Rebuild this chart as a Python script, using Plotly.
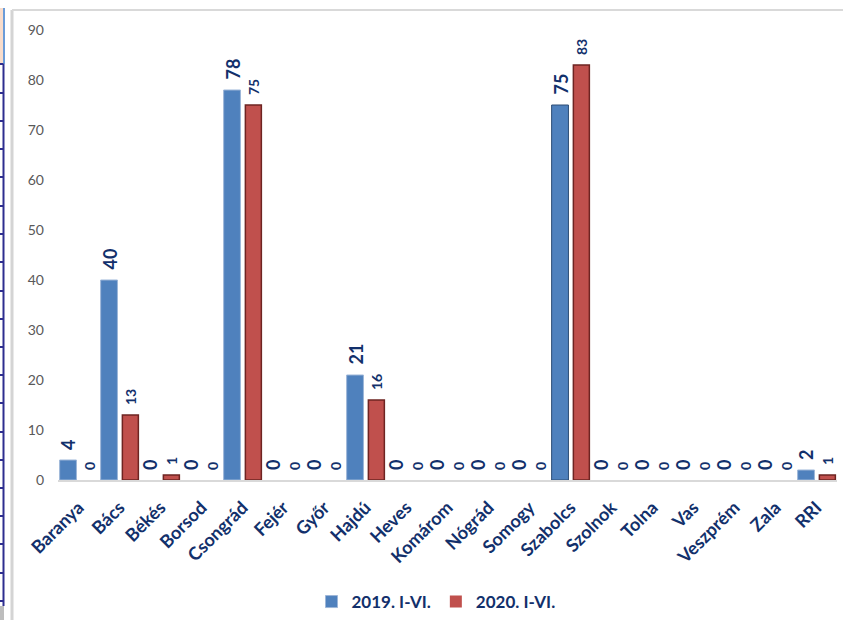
import plotly.graph_objects as go

categories = ["Baranya", "Bács", "Békés", "Borsod", "Csongrád", "Fejér", "Győr", "Hajdú",
              "Heves", "Komárom", "Nógrád", "Somogy", "Szabolcs", "Szolnok", "Tolna", "Vas",
              "Veszprém", "Zala", "RRI"]
values_2019 = [4, 40, 0, 0, 78, 0, 0, 21, 0, 0, 0, 0, 75, 0, 0, 0, 0, 0, 2]
values_2020 = [0, 13, 1, 0, 75, 0, 0, 16, 0, 0, 0, 0, 83, 0, 0, 0, 0, 0, 1]
series_names = ["2019. I-VI.", "2020. I-VI."]
y_ticks = [0, 10, 20, 30, 40, 50, 60, 70, 80, 90]

W, H = 843, 620
L, R, T, B = 58, 6, 30, 140
PW, PH = W - L - R, H - T - B

def px(x):
    return (x - L) / PW

def py(y):
    return (H - B - y) / PH

NAVY = "#12306B"
FONT = "Lato"

blue_line_c = ["#2C4D75" if c == "Szabolcs" else "#9DB6D8" for c in categories]
blue_line_w = [0 if v == 0 else 1 for v in values_2019]
red_line_w = [0 if v == 0 else 1.5 for v in values_2020]

fig = go.Figure()
fig.add_trace(go.Bar(
    x=categories, y=values_2019, name=series_names[0],
    marker=dict(color="#4F81BD", line=dict(color=blue_line_c, width=blue_line_w)),
    width=0.41, offset=-0.46,
))
fig.add_trace(go.Bar(
    x=categories, y=values_2020, name=series_names[1],
    marker=dict(color="#C0504D", line=dict(color="#6E2422", width=red_line_w)),
    width=0.39, offset=0.07,
))

annotations = []
for c, v in zip(categories, values_2019):
    annotations.append(dict(x=c, y=v, xref="x", yref="y", text=str(v), showarrow=False,
                            textangle=-90, xanchor="center", yanchor="bottom", xshift=-10.5, yshift=8,
                            font=dict(family=FONT, size=18, color=NAVY, weight="bold")))
for c, v in zip(categories, values_2020):
    annotations.append(dict(x=c, y=v, xref="x", yref="y", text=str(v), showarrow=False,
                            textangle=-90, xanchor="center", yanchor="bottom", xshift=10.5, yshift=8,
                            font=dict(family=FONT, size=14, color=NAVY, weight="bold")))

shapes = []
# frame of the embedded chart
shapes.append(dict(type="line", xref="paper", yref="paper", x0=px(12), x1=px(12), y0=py(10), y1=py(620),
                   line=dict(color="#D4D4D4", width=3), layer="below"))
shapes.append(dict(type="line", xref="paper", yref="paper", x0=px(12), x1=px(843), y0=py(10), y1=py(10),
                   line=dict(color="#D9D9D9", width=2), layer="below"))
# left decorative strip
shapes.append(dict(type="rect", xref="paper", yref="paper", x0=px(0), x1=px(4), y0=py(64), y1=py(8),
                   fillcolor="#F8DCCB", line=dict(width=0), layer="below"))
shapes.append(dict(type="line", xref="paper", yref="paper", x0=px(4), x1=px(4), y0=py(64), y1=py(8),
                   line=dict(color="#6A9BD8", width=2), layer="below"))
shapes.append(dict(type="line", xref="paper", yref="paper", x0=px(3.5), x1=px(3.5), y0=py(606), y1=py(64),
                   line=dict(color="#2E2E8F", width=2), layer="below"))
for ty in [64, 93, 121, 149, 177, 206, 234, 262, 291, 319, 347, 375, 403, 432, 460, 488, 516, 544, 573, 601]:
    shapes.append(dict(type="line", xref="paper", yref="paper", x0=px(0), x1=px(3.5), y0=py(ty), y1=py(ty),
                       line=dict(color="#2E2E8F", width=2), layer="below"))
shapes.append(dict(type="rect", xref="paper", yref="paper", x0=px(0), x1=px(4), y0=py(620), y1=py(606),
                   fillcolor="#BDBDBD", line=dict(width=0), layer="below"))

fig.update_layout(
    width=W, height=H,
    margin=dict(l=L, r=R, t=T, b=B, pad=0, autoexpand=False),
    paper_bgcolor="white", plot_bgcolor="white",
    barmode="group",
    showlegend=True,
    legend=dict(orientation="h", x=px(436), xanchor="center", y=py(602), yanchor="middle",
                font=dict(family=FONT, size=17, color=NAVY, weight="bold"),
                itemwidth=30, traceorder="normal"),
    xaxis=dict(
        type="category", range=[-0.5, len(categories) - 0.5],
        showline=True, linecolor="#D9D9D9", linewidth=2,
        showgrid=False, zeroline=False, ticks="",
        tickangle=-45, ticklabelstandoff=8,
        tickfont=dict(family=FONT, size=18, color=NAVY, weight="bold"),
    ),
    yaxis=dict(
        range=[0, 90], tickvals=y_ticks, showgrid=False, zeroline=False,
        showline=False, ticks="", ticklabelstandoff=13,
        tickfont=dict(family=FONT, size=14, color="#595959"),
    ),
    shapes=shapes,
    annotations=annotations,
)

fig.write_html("out.html", config={"displayModeBar": False},
               post_script="document.body.style.margin='0px';")
